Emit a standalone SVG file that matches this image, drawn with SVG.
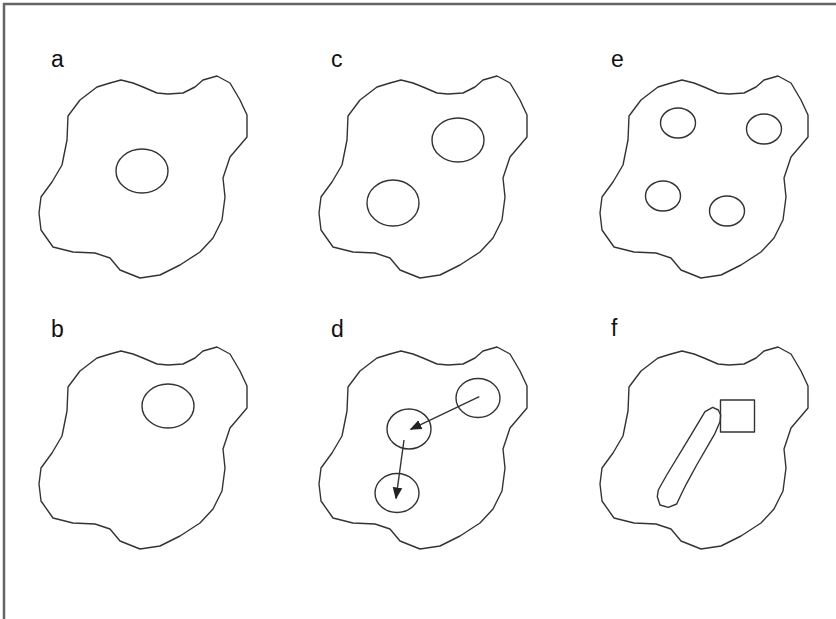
<svg xmlns="http://www.w3.org/2000/svg" xmlns:xlink="http://www.w3.org/1999/xlink" width="836" height="619" viewBox="0 0 836 619">
<style>
.ln{fill:none;stroke:#333;stroke-width:1.4;stroke-linejoin:round}
.lbl{font-family:"Liberation Sans",Arial,sans-serif;font-size:23px;fill:#111}
</style>
<defs>
<path id="cell" d="M121,80 L110,83 L97,87 L80,100 L68,116 L67,140 L62,165 L52,182 L41,197 L39,213 L41,230 L53,247 L73,252 L95,253 L110,258 L120,270 L140,278 L160,275 L180,265 L200,252 L213,238 L222,220 L225,197 L223,178 L230,157 L247,137 L247,115 L240,100 L230,83 L217,76 L203,80 L195,87 L183,93 L168,94 L157,93 L143,87 L133,83 Z"/>
<marker id="ah" viewBox="0 0 10 10" refX="9" refY="5" markerWidth="12" markerHeight="12" markerUnits="userSpaceOnUse" orient="auto">
<path d="M0,1 L10,5 L0,9 Z" fill="#222"/>
</marker>
</defs>
<rect width="836" height="619" fill="#fff"/>
<path d="M4,619 V4 H836" fill="none" stroke="#666" stroke-width="2.5"/>
<g id="panel-a">
<text class="lbl" x="51" y="67">a</text>
<use xlink:href="#cell" href="#cell" class="ln"/>
<ellipse class="ln" cx="142" cy="171" rx="26" ry="22"/>
</g>
<g id="panel-c">
<text class="lbl" x="331" y="67">c</text>
<use xlink:href="#cell" href="#cell" class="ln" transform="translate(280,0)"/>
<ellipse class="ln" cx="458" cy="140" rx="26" ry="22"/>
<ellipse class="ln" cx="393" cy="203" rx="26" ry="23"/>
</g>
<g id="panel-e">
<text class="lbl" x="611" y="67">e</text>
<use xlink:href="#cell" href="#cell" class="ln" transform="translate(561,0)"/>
<ellipse class="ln" cx="678" cy="123" rx="17.5" ry="15"/>
<ellipse class="ln" cx="764" cy="129" rx="17.5" ry="15"/>
<ellipse class="ln" cx="663" cy="196" rx="17.5" ry="15"/>
<ellipse class="ln" cx="727" cy="211" rx="17.5" ry="15"/>
</g>
<g id="panel-b">
<text class="lbl" x="51" y="337">b</text>
<use xlink:href="#cell" href="#cell" class="ln" transform="translate(0,271)"/>
<ellipse class="ln" cx="168" cy="406" rx="26" ry="22"/>
</g>
<g id="panel-d">
<text class="lbl" x="331" y="337">d</text>
<use xlink:href="#cell" href="#cell" class="ln" transform="translate(280,271)"/>
<ellipse class="ln" cx="478" cy="398" rx="22" ry="19.5"/>
<ellipse class="ln" cx="409" cy="429" rx="22" ry="20"/>
<ellipse class="ln" cx="397" cy="493" rx="22" ry="19.5"/>
</g>
<g id="panel-f">
<text class="lbl" x="611" y="336">f</text>
<use xlink:href="#cell" href="#cell" class="ln" transform="translate(561,271)"/>
<rect class="ln" x="720.5" y="400" width="34" height="32"/>
<path class="ln" d="M712.7,407.3 L718.3,410 L720.7,415 L720,421.7 L715,433.3 L696.7,465 L686.7,483.3 L681.7,493.3 L676.7,504 L668.3,507.3 L660,505 L657.3,496.7 L658.3,490 L666.7,475 L690,436.7 L705,411.7 Z"/>
</g>
<g id="connectors">
<line class="ln" x1="479.3" y1="396.7" x2="410.7" y2="429.3" marker-end="url(#ah)"/>
<line class="ln" x1="404" y1="440" x2="396" y2="498.3" marker-end="url(#ah)"/>
</g>
</svg>
